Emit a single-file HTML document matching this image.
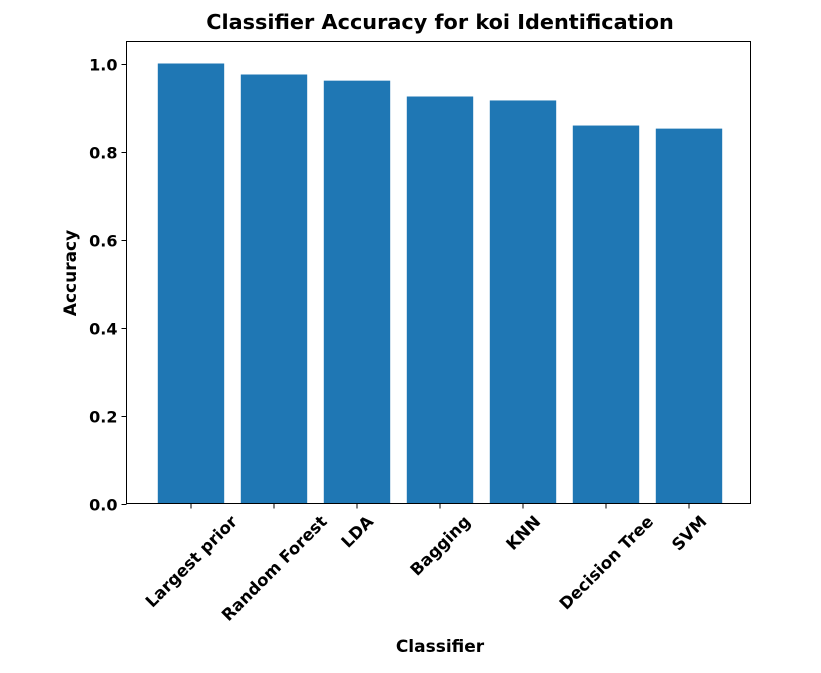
<!DOCTYPE html>
<html><head><meta charset="utf-8"><style>
html,body{margin:0;padding:0;background:#fff;}
svg text{font-family:"DejaVu Sans","Liberation Sans",sans-serif;font-weight:bold;fill:#000;}
</style></head><body>
<svg id="chart" width="821" height="668" xmlns="http://www.w3.org/2000/svg">
<text x="440" y="29" font-size="20.8" text-anchor="middle">Classifier Accuracy for koi Identification</text>
<g id="bars"></g>
<g id="yticks"></g>
<g id="xticks"></g>
<rect x="126.5" y="41.5" width="624" height="462" fill="none" stroke="#000" stroke-width="1"/>
<text transform="translate(76,273) rotate(-90)" font-size="17" text-anchor="middle">Accuracy</text>
<text x="440" y="652" font-size="17" text-anchor="middle">Classifier</text>
</svg>
<script>
const categories=["Largest prior","Random Forest","LDA","Bagging","KNN","Decision Tree","SVM"];
const accuracy=[1.0,0.975,0.961,0.925,0.916,0.859,0.852];
const yTickValues=[0,0.2,0.4,0.6,0.8,1.0];
const yTickLabels=["0.0","0.2","0.4","0.6","0.8","1.0"];
const NS="http://www.w3.org/2000/svg";
const L=126.5,R=750.5,T=41.5,B=503.5;
const xmin=-0.777,xmax=categories.length-1+0.741;
const ymin=0,ymax=1.05;
function xs(v){return L+(v-xmin)/(xmax-xmin)*(R-L);}
function ys(v){return B-(v-ymin)/(ymax-ymin)*(B-T);}
function mk(tag,attrs,parent){const e=document.createElementNS(NS,tag);for(const k in attrs)e.setAttribute(k,attrs[k]);parent.appendChild(e);return e;}
const bars=document.getElementById('bars'),yt=document.getElementById('yticks'),xt=document.getElementById('xticks');
accuracy.forEach((v,i)=>{
  const x0=xs(i-0.4),x1=xs(i+0.4);
  const r=mk('rect',{x:x0,y:ys(v),width:x1-x0,height:ys(0)-ys(v),fill:'#1f77b4'},bars);
  
  
});
yTickValues.forEach((v,i)=>{
  const y=Math.round(ys(v))+0.5;
  const l=mk('line',{x1:L-5,x2:L,y1:y,y2:y,stroke:'#000'},yt);
  
  
  const t=mk('text',{x:L-9,y:y+6,'font-size':'16','text-anchor':'end'},yt);
  t.textContent=yTickLabels[i];
  
  
});
categories.forEach((c,i)=>{
  const x=xs(i);
  const l=mk('line',{x1:x,x2:x,y1:B,y2:B+5,stroke:'#000'},xt);
  
  
  const t=mk('text',{'font-size':'16.5','text-anchor':'middle'},xt);
  t.textContent=c;
  
  
  const w=t.getComputedTextLength(),h=16.5;
  const cy=B+9+(w+h)*0.7071/2;
  t.setAttribute('transform','translate('+x+','+cy+') rotate(-45)');
  t.setAttribute('y',6);
});
</script>
</body></html>
